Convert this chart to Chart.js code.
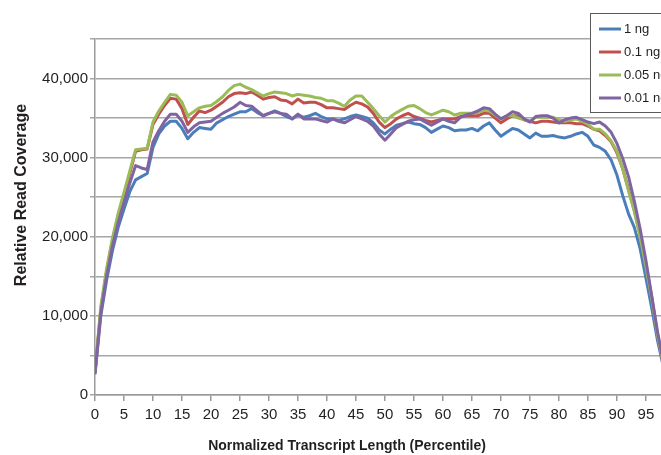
<!DOCTYPE html>
<html>
<head>
<meta charset="utf-8">
<script src="https://cdn.jsdelivr.net/npm/chart.js@4.4.1/dist/chart.umd.min.js"></script>
<style>
  html, body { margin: 0; padding: 0; background: #fff; }
  #wrap { width: 661px; height: 455px; }
</style>
</head>
<body>
<div id="wrap"><canvas id="myChart" width="661" height="455"></canvas></div>
<script>
// x positions: percentile 0..100
const percentiles = Array.from({ length: 101 }, (_, i) => i);
const seriesLabels = ["1 ng", "0.1 ng", "0.05 ng", "0.01 ng"];
const seriesColors = ["#4a7ebb", "#c0504d", "#9bbb59", "#8064a2"];
const yTickValues = [0, 10000, 20000, 30000, 40000];
const xTitle = "Normalized Transcript Length (Percentile)";
const yTitle = "Relative Read Coverage";

const cov1ng = [
  2600, 10000, 14500, 18200, 21200, 23500, 25700, 27200, 27600, 28000,
  31300, 33000, 34000, 34600, 34600, 33700, 32400, 33200, 33800, 33700,
  33600, 34400, 34800, 35200, 35500, 35800, 35800, 36200, 35700, 35300,
  35600, 35900, 35600, 35200, 34900, 35400, 35100, 35300, 35600, 35200,
  34900, 34900, 34700, 34900, 35200, 35400, 35200, 35000, 34400, 33500,
  33000, 33600, 34100, 34300, 34500, 34300, 34200, 33800, 33200, 33600,
  34000, 33800, 33400, 33500, 33500, 33700, 33400, 34000, 34400, 33500,
  32700, 33200, 33700, 33500, 33000, 32500, 33100, 32700, 32700, 32800,
  32600, 32500, 32700, 33000, 33200, 32700, 31600, 31300, 30800, 29700,
  27800, 25200, 22900, 21200, 18500, 14800, 11000, 6900, 3600, 2200, 1500
];
const cov01ng = [
  2900, 10800, 15600, 19500, 22600, 25200, 28000, 30800, 31000, 31100,
  34200, 35500, 36600, 37500, 37400, 36200, 34200, 35100, 35900, 35700,
  36000, 36500, 37000, 37700, 38100, 38200, 38100, 38300, 37900, 37400,
  37600, 37700, 37300, 37200, 36800, 37400, 36900, 37000, 37000, 36700,
  36300, 36300, 36200, 36100, 36600, 37000, 36800, 36400, 35600, 34500,
  33800, 34300, 34900, 35300, 35600, 35200, 35000, 34700, 34500, 34700,
  34900, 34900, 34900, 35200, 35300, 35300, 35300, 35600, 35600, 35000,
  34400, 34900, 35300, 35300, 34800, 34600, 34400, 34600, 34600, 34500,
  34400, 34400, 34400, 34300, 34300, 34000, 33600, 33400, 32800, 32000,
  30600, 28600, 26000, 23300, 20200, 16500, 12400, 7600, 4000, 2400, 1600
];
const cov005ng = [
  3000, 11200, 16000, 19800, 23000, 25600, 28300, 31000, 31100, 31200,
  34500, 35900, 37000, 38000, 37900, 37000, 35300, 35800, 36300, 36500,
  36600, 37100, 37700, 38500, 39100, 39300, 38900, 38600, 38200, 37800,
  38100, 38300, 38200, 38100, 37800, 38000, 37900, 37800, 37600, 37500,
  37200, 37200, 36900, 36500, 37300, 37800, 37800, 37000, 36200, 35300,
  34500, 35200, 35700, 36100, 36500, 36600, 36200, 35700, 35400, 35700,
  36000, 35800, 35400, 35600, 35600, 35600, 35700, 36000, 35900, 35400,
  34900, 35300, 35300, 35000, 34800, 34600, 35100, 35100, 35100, 35100,
  34800, 34600, 34800, 34900, 34600, 34200, 33600, 33600, 33000, 32100,
  30800, 28600, 25800, 23200, 20000, 16200, 12200, 7600, 4000, 2400, 1600
];
const cov001ng = [
  2800, 10400, 15000, 18800, 21800, 24300, 26800, 29000, 28700, 28500,
  32000, 33400, 34600, 35500, 35500, 34600, 33200, 33900, 34400, 34500,
  34600, 35100, 35600, 36000, 36400, 37000, 36600, 36500, 35900, 35300,
  35600, 35800, 35600, 35500, 34900, 35500, 34900, 34900, 34900, 34700,
  34500, 34900, 34600, 34400, 34800, 35200, 34900, 34600, 34000, 33000,
  32200, 33000, 33800, 34200, 34600, 34800, 34900, 34500, 34100, 34500,
  34900, 34600, 34400, 35100, 35400, 35600, 35900, 36300, 36200, 35500,
  34900, 35300, 35800, 35600, 34900, 34500, 35200, 35300, 35300, 35000,
  34400, 34800, 35000, 35100, 34800, 34500, 34300, 34500, 34000, 33200,
  31800, 29900, 27600, 24500, 21000, 17000, 12500, 8000, 4200, 2500, 1700
];
const allSeries = [cov1ng, cov01ng, cov005ng, cov001ng];
// purple drawn on top, then green, red, blue
const drawOrder = [3, 2, 1, 0];

const FONT = "'Liberation Sans', Arial, sans-serif";

const boxLegend = {
  id: "boxLegend",
  afterDraw(chart) {
    const ctx = chart.ctx;
    ctx.save();
    ctx.fillStyle = "#fff";
    ctx.fillRect(590, 13, 80, 99);
    ctx.strokeStyle = "#5a5a5a";
    ctx.lineWidth = 1;
    ctx.strokeRect(590.5, 13.5, 80, 99);
    ctx.font = "13px " + FONT;
    ctx.textBaseline = "middle";
    ctx.fillStyle = "#231f20";
    chart.data.datasets.forEach((ds, i) => {
      const y = 29 + i * 23;
      ctx.strokeStyle = ds.borderColor;
      ctx.lineWidth = 3;
      ctx.beginPath();
      ctx.moveTo(599, y);
      ctx.lineTo(621, y);
      ctx.stroke();
      ctx.fillText(ds.label, 624, y);
    });
    ctx.restore();
  }
};

const axisTitles = {
  id: "axisTitles",
  afterDraw(chart) {
    const ctx = chart.ctx;
    ctx.save();
    ctx.fillStyle = "#231f20";
    ctx.textAlign = "center";
    ctx.textBaseline = "middle";
    ctx.font = "bold 14px " + FONT;
    ctx.fillText(xTitle, 347, 446);
    ctx.font = "bold 16px " + FONT;
    ctx.translate(22, 195);
    ctx.rotate(-Math.PI / 2);
    ctx.fillText(yTitle, 0, 0);
    ctx.restore();
  }
};

const ctx = document.getElementById("myChart");
const myChart = new Chart(ctx, {
  type: "line",
  data: {
    datasets: allSeries.map((values, i) => ({
      label: seriesLabels[i],
      data: values.map((v, k) => ({ x: percentiles[k], y: v })),
      borderColor: seriesColors[i],
      backgroundColor: seriesColors[i],
      borderWidth: 3,
      pointRadius: 0,
      tension: 0,
      borderJoinStyle: "round",
      order: drawOrder[i],
    })),
  },
  options: {
    responsive: false,
    devicePixelRatio: 1,
    animation: false,
    layout: { padding: { top: 39, left: 0, right: 0, bottom: 0 } },
    plugins: {
      legend: { display: false },
      tooltip: { enabled: false },
    },
    scales: {
      x: {
        type: "linear",
        min: 0,
        max: 97.6,
        afterFit: (scale) => { scale.height = 60; },
        border: { color: "#9a9a9a", width: 1.5 },
        grid: {
          drawOnChartArea: false,
          drawTicks: true,
          tickLength: 6,
          color: "#9a9a9a",
          lineWidth: 1.5,
        },
        ticks: {
          stepSize: 5,
          includeBounds: false,
          maxRotation: 0,
          autoSkip: false,
          padding: 5,
          color: "#231f20",
          font: { family: FONT, size: 15 },
        },
      },
      y: {
        min: 0,
        max: 45000,
        afterFit: (scale) => { scale.width = 95; },
        border: { color: "#9a9a9a", width: 1.5 },
        grid: {
          color: "#a6a6a6",
          lineWidth: 1.5,
          tickLength: 5,
        },
        ticks: {
          stepSize: 5000,
          padding: 2,
          color: "#231f20",
          font: { family: FONT, size: 15 },
          callback: (value) => yTickValues.includes(value) ? value.toLocaleString("en-US") : "",
        },
      },
    },
  },
  plugins: [boxLegend, axisTitles],
});
</script>
</body>
</html>
